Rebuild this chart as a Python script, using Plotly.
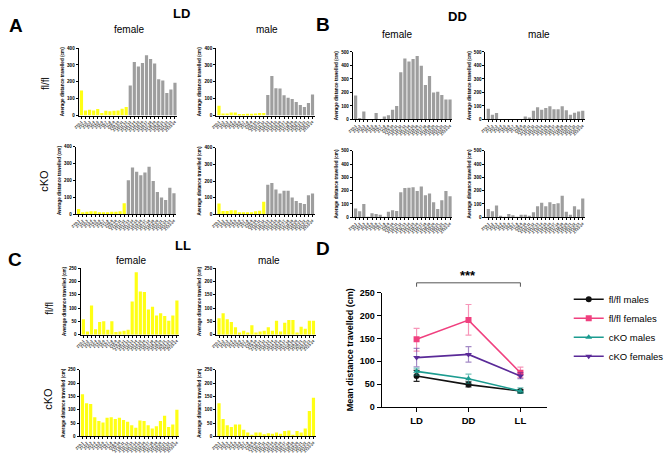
import plotly.graph_objects as go

W, H = 669, 459

HOURS = ["ZT0-1", "ZT1-2", "ZT2-3", "ZT3-4", "ZT4-5", "ZT5-6", "ZT6-7", "ZT7-8",
         "ZT8-9", "ZT9-10", "ZT10-11", "ZT11-12", "ZT12-13", "ZT13-14", "ZT14-15",
         "ZT15-16", "ZT16-17", "ZT17-18", "ZT18-19", "ZT19-20", "ZT20-21", "ZT21-22",
         "ZT22-23", "ZT23-24"]

LD_FLFL_FEMALE = [148, 30, 35, 30, 38, 15, 28, 25, 28, 30, 40, 50, 178, 318, 290, 312, 358, 335, 308, 215, 208, 133, 155, 195]
LD_FLFL_MALE = [58, 12, 12, 18, 18, 8, 8, 10, 10, 12, 15, 15, 122, 235, 162, 160, 120, 105, 98, 80, 62, 50, 75, 125]
LD_CKO_FEMALE = [32, 12, 15, 18, 18, 12, 12, 12, 15, 15, 18, 65, 202, 278, 252, 232, 248, 282, 198, 132, 100, 85, 158, 125]
LD_CKO_MALE = [65, 20, 20, 25, 25, 12, 12, 12, 12, 18, 22, 75, 178, 188, 150, 125, 142, 142, 102, 80, 68, 62, 115, 125]
DD_FLFL_FEMALE = [178, 10, 58, 3, 3, 48, 3, 22, 32, 72, 100, 350, 452, 430, 448, 470, 398, 255, 322, 200, 205, 182, 148, 148]
DD_FLFL_MALE = [80, 35, 48, 3, 3, 3, 3, 3, 3, 22, 15, 65, 90, 72, 85, 98, 75, 75, 98, 68, 35, 50, 58, 65]
DD_CKO_FEMALE = [65, 45, 100, 3, 30, 25, 18, 3, 42, 52, 48, 188, 220, 222, 225, 198, 232, 165, 178, 112, 62, 128, 198, 158]
DD_CKO_MALE = [62, 45, 88, 8, 3, 25, 15, 3, 18, 18, 5, 38, 82, 110, 82, 112, 100, 105, 162, 42, 18, 82, 58, 142]
LL_FLFL_FEMALE = [58, 12, 110, 20, 48, 50, 18, 50, 10, 12, 15, 18, 125, 235, 162, 160, 95, 105, 72, 80, 70, 52, 72, 128]
LL_FLFL_MALE = [62, 80, 58, 48, 28, 8, 15, 8, 35, 8, 12, 15, 28, 15, 52, 12, 45, 55, 55, 8, 30, 22, 52, 52]
LL_CKO_FEMALE = [158, 125, 122, 72, 58, 52, 70, 72, 65, 70, 62, 55, 42, 32, 60, 58, 42, 30, 38, 58, 78, 35, 45, 100]
LL_CKO_MALE = [125, 65, 42, 35, 45, 45, 25, 15, 5, 15, 15, 8, 12, 10, 15, 10, 20, 22, 5, 20, 15, 30, 95, 145]

CONDITIONS = ["LD", "DD", "LL"]
FLFL_MALES = [68, 49, 35]
FLFL_MALES_ERR_UP = [12, 6, 3]
FLFL_MALES_ERR_DN = [12, 5, 4]
FLFL_FEMALES = [148, 190, 75]
FLFL_FEMALES_ERR_UP = [24, 34, 12]
FLFL_FEMALES_ERR_DN = [26, 33, 10]
CKO_MALES = [78, 62, 35]
CKO_MALES_ERR_UP = [7, 10, 7]
CKO_MALES_ERR_DN = [8, 10, 5]
CKO_FEMALES = [108, 115, 68]
CKO_FEMALES_ERR_UP = [20, 17, 7]
CKO_FEMALES_ERR_DN = [20, 17, 6]

YELLOW = "#FFFF14"
GREY = "#9E9E9E"
FONT = "Arial, Liberation Sans, sans-serif"


def px(x):
    return x / W


def py(y):
    return 1 - y / H


fig = go.Figure()
layout = {}

# (values, colour pattern, ymax, dtick, x0, x1, ytop, ybottom)
panels = [
    (LD_FLFL_FEMALE, "LD", 400, 100, 76, 178, 44, 113),
    (LD_FLFL_MALE, "LD", 400, 100, 218, 320, 44, 113),
    (LD_CKO_FEMALE, "LD", 400, 100, 73, 177, 145, 214),
    (LD_CKO_MALE, "LD", 400, 100, 218, 320, 146, 214),
    (DD_FLFL_FEMALE, "DD", 500, 100, 359, 462, 48, 117),
    (DD_FLFL_MALE, "DD", 500, 100, 496, 599, 48, 117),
    (DD_CKO_FEMALE, "DD", 500, 100, 359, 462, 149, 217),
    (DD_CKO_MALE, "DD", 500, 100, 496, 599, 149, 217),
    (LL_FLFL_FEMALE, "LL", 250, 50, 78, 180, 269, 337),
    (LL_FLFL_MALE, "LL", 250, 50, 218, 321, 269, 337),
    (LL_CKO_FEMALE, "LL", 250, 50, 77, 180, 373, 441),
    (LL_CKO_MALE, "LL", 250, 50, 218, 321, 373, 441),
]

for i, (vals, cond, ymax, dtick, x0, x1, yt, yb) in enumerate(panels, start=1):
    if cond == "LD":
        colors = [YELLOW] * 12 + [GREY] * 12
    elif cond == "DD":
        colors = [GREY] * 24
    else:
        colors = [YELLOW] * 24
    sfx = "" if i == 1 else str(i)
    fig.add_trace(go.Bar(x=HOURS, y=vals, marker=dict(color=colors, line=dict(width=0)),
                         xaxis="x" + sfx, yaxis="y" + sfx, showlegend=False))
    layout["xaxis" + sfx] = dict(
        domain=[px(x0), px(x1)], anchor="y" + sfx, type="category",
        tickmode="array", tickvals=HOURS, ticktext=HOURS,
        range=[-0.7, 23.6], showline=True, linecolor="black", linewidth=1,
        ticks="outside", ticklen=2, tickwidth=0.7, tickcolor="black",
        tickangle=-45, tickfont=dict(size=3.6, family=FONT, color="#333333", weight="bold"),
        showgrid=False, zeroline=False, fixedrange=True)
    layout["yaxis" + sfx] = dict(
        domain=[py(yb), py(yt)], anchor="x" + sfx, range=[0, ymax], dtick=dtick,
        showline=True, linecolor="black", linewidth=1, ticks="outside", ticklen=2,
        tickwidth=0.7, tickcolor="black",
        tickfont=dict(size=4.6, family=FONT, color="black", weight="bold"),
        title=dict(text="Average distance travelled (cm)", standoff=2,
                   font=dict(size=4.6, family=FONT, color="black", weight="bold")),
        showgrid=False, zeroline=False, fixedrange=True)

# Panel D
series = [
    ("fl/fl males", FLFL_MALES, FLFL_MALES_ERR_UP, FLFL_MALES_ERR_DN, "#111111", "circle", "rgba(17,17,17,0.9)"),
    ("fl/fl females", FLFL_FEMALES, FLFL_FEMALES_ERR_UP, FLFL_FEMALES_ERR_DN, "#F0407F", "square", "rgba(240,64,127,0.55)"),
    ("cKO males", CKO_MALES, CKO_MALES_ERR_UP, CKO_MALES_ERR_DN, "#1C9C90", "triangle-up", "rgba(28,156,144,0.6)"),
    ("cKO females", CKO_FEMALES, CKO_FEMALES_ERR_UP, CKO_FEMALES_ERR_DN, "#5A2A98", "triangle-down", "rgba(90,42,152,0.55)"),
]
for name, vals, eu, ed, col, sym, ecol in series:
    fig.add_trace(go.Scatter(
        x=CONDITIONS, y=vals, name=name, mode="lines+markers",
        line=dict(color=col, width=1.6),
        marker=dict(symbol=sym, size=6, color=col),
        error_y=dict(type="data", array=eu, arrayminus=ed, color=ecol,
                     thickness=1.2, width=3),
        xaxis="x13", yaxis="y13"))

layout["xaxis13"] = dict(
    domain=[px(389), px(560)], anchor="y13", type="category", range=[-0.67, 2.52],
    showline=True, linecolor="black", linewidth=1.3, ticks="outside", ticklen=4,
    tickcolor="black", tickwidth=1.2,
    tickfont=dict(size=9.5, family=FONT, color="black", weight="bold"),
    showgrid=False, zeroline=False, fixedrange=True)
layout["yaxis13"] = dict(
    domain=[py(411), py(294)], anchor="x13", range=[0, 250], dtick=50,
    showline=True, linecolor="black", linewidth=1.3, ticks="outside", ticklen=4,
    tickcolor="black", tickwidth=1.2,
    tickfont=dict(size=9, family=FONT, color="black", weight="bold"),
    title=dict(text="Mean distance travelled (cm)", standoff=4,
               font=dict(size=9, family=FONT, color="black", weight="bold")),
    showgrid=False, zeroline=False, fixedrange=True)

shapes = [
    dict(type="line", xref="x13", yref="paper", x0="LD", x1="LL", y0=py(284), y1=py(284),
         line=dict(color="#555555", width=1)),
    dict(type="line", xref="x13", yref="paper", x0="LD", x1="LD", y0=py(284), y1=py(288),
         line=dict(color="#555555", width=1)),
    dict(type="line", xref="x13", yref="paper", x0="LL", x1="LL", y0=py(284), y1=py(288),
         line=dict(color="#555555", width=1)),
]

annotations = []


def txt(t, x, y, size, bold=False, angle=0):
    annotations.append(dict(
        text=t, x=px(x), y=py(y), xref="paper", yref="paper", showarrow=False,
        xanchor="center", yanchor="middle", textangle=angle,
        font=dict(size=size, family=FONT, color="black", weight="bold" if bold else "normal")))


txt("A", 11, 21, 19, True)
txt("LD", 182, 9, 13, True)
txt("female", 128, 25, 10)
txt("male", 270, 25, 10)
txt("fl/fl", 42, 80, 10, angle=-90)
txt("cKO", 40, 180, 11, angle=-90)

txt("B", 328, 20, 19, True)
txt("DD", 467, 12, 13, True)
txt("female", 405, 30, 10)
txt("male", 551, 30, 10)

txt("C", 10, 260, 19, True)
txt("LL", 184, 246, 13, True)
txt("female", 130, 261, 10)
txt("male", 273, 261, 10)
txt("fl/fl", 46, 310, 10, angle=-90)
txt("cKO", 45, 403, 11, angle=-90)

txt("D", 328, 249, 19, True)
annotations.append(dict(
    text="***", x="DD", y=py(277), xref="x13", yref="paper", showarrow=False,
    xanchor="center", yanchor="middle",
    font=dict(size=13, family=FONT, color="black", weight="bold")))

fig.update_layout(
    width=W, height=H, autosize=False,
    margin=dict(l=0, r=0, t=0, b=0, pad=0),
    paper_bgcolor="white", plot_bgcolor="white",
    bargap=0.22, showlegend=True,
    legend=dict(x=px(582), y=py(286), xanchor="left", yanchor="top",
                font=dict(size=9.5, family=FONT, color="black"),
                bgcolor="rgba(0,0,0,0)", itemwidth=30, tracegroupgap=0),
    shapes=shapes, annotations=annotations,
    **layout)

fig.write_html("out.html")
